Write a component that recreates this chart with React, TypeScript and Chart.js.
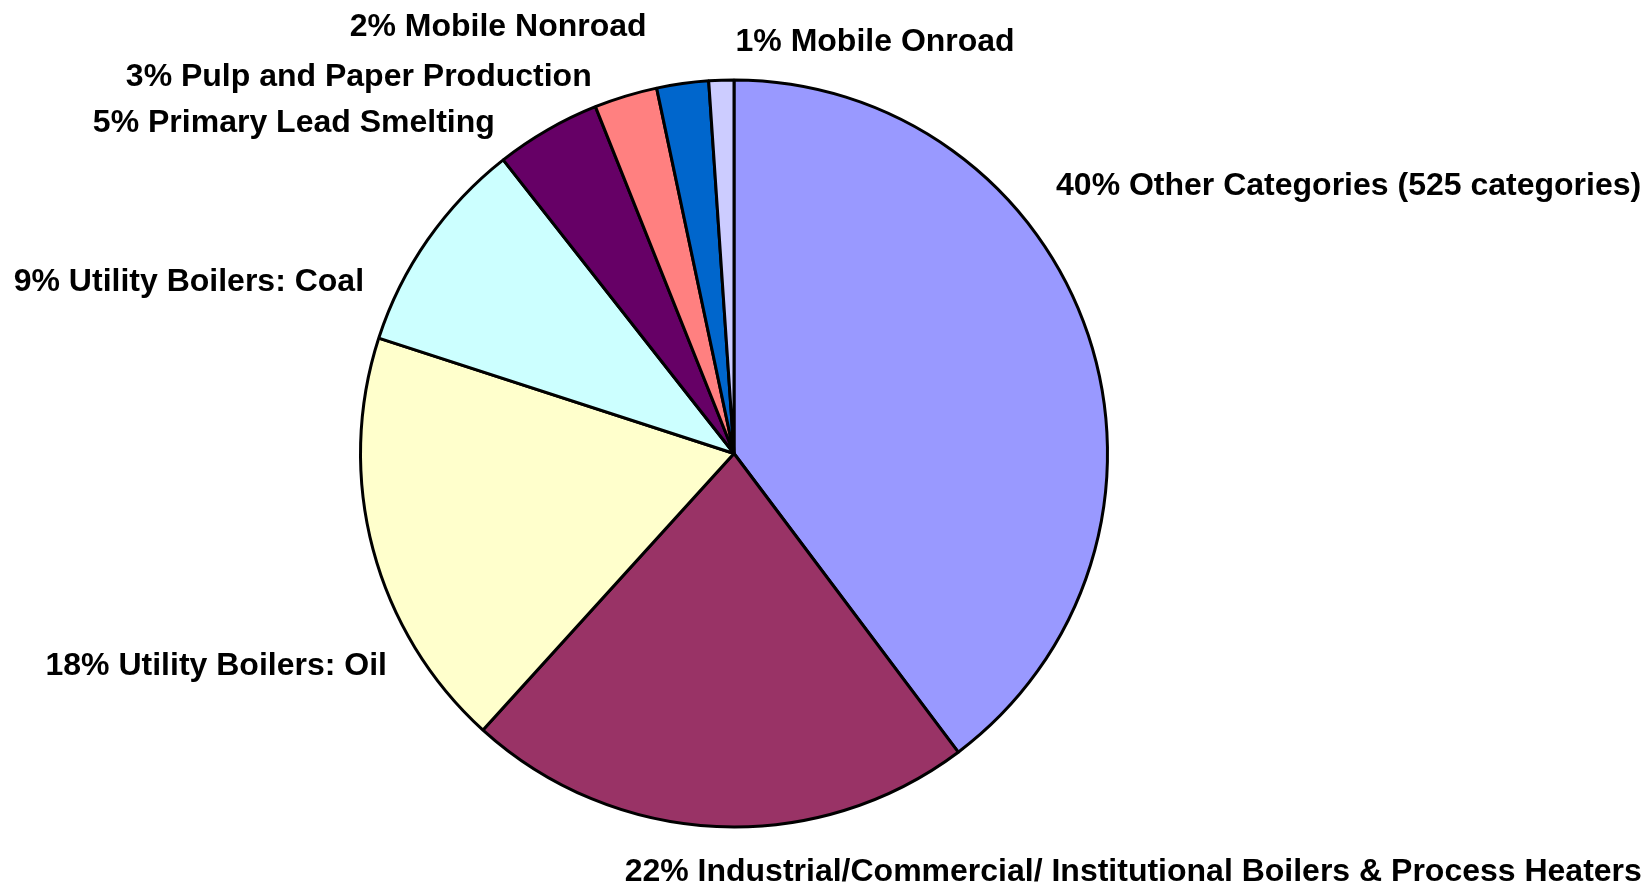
import React, { useEffect, useRef } from "react";
import { Chart, registerables } from "chart.js";

Chart.register(...registerables);

const categories = [
  "Other Categories (525 categories)",
  "Industrial/Commercial/ Institutional Boilers & Process Heaters",
  "Utility Boilers: Oil",
  "Utility Boilers: Coal",
  "Primary Lead Smelting",
  "Pulp and Paper Production",
  "Mobile Nonroad",
  "Mobile Onroad",
];

const values = [39.75, 21.98, 18.27, 9.4, 4.55, 2.73, 2.24, 1.08];

const colors = [
  "#9999FF",
  "#993366",
  "#FFFFCC",
  "#CCFFFF",
  "#660066",
  "#FF8080",
  "#0066CC",
  "#CCCCFF",
];

// label layout (relative to each slice's mid-angle point on the rim, in radius units)
const labelAlign: CanvasTextAlign[] = ["left", "left", "right", "right", "right", "right", "right", "left"];
const labelOffsets: [number, number][] = [
  [-0.0864, -0.4067],
  [-0.2463, 0.1147],
  [0.0372, 0.3059],
  [-0.1706, 0.1059],
  [-0.1409, -0.0241],
  [-0.0909, -0.0578],
  [-0.0963, -0.158],
  [0.038, -0.1088],
];

const FONT_SIZE = 32;

const labelPlugin = {
  id: "sliceLabels",
  afterDraw(chart: any) {
    const ctx: CanvasRenderingContext2D = chart.ctx;
    const meta = chart.getDatasetMeta(0);
    const total = values.reduce((a, b) => a + b, 0);
    ctx.save();
    ctx.font = `bold ${FONT_SIZE}px "Liberation Sans", Arial, sans-serif`;
    ctx.fillStyle = "#000000";
    ctx.textBaseline = "alphabetic";
    meta.data.forEach((arc: any, i: number) => {
      const p = arc.getProps(["x", "y", "startAngle", "endAngle", "outerRadius"], true);
      const mid = (p.startAngle + p.endAngle) / 2;
      const R = p.outerRadius;
      const ax = p.x + R * Math.cos(mid) + labelOffsets[i][0] * R;
      const ay = p.y + R * Math.sin(mid) + labelOffsets[i][1] * R;
      ctx.textAlign = labelAlign[i];
      const pct = Math.round((values[i] / total) * 100);
      ctx.fillText(`${pct}% ${categories[i]}`, ax, ay + 0.358 * FONT_SIZE);
    });
    ctx.restore();
  },
};

export default function App() {
  const canvasRef = useRef<HTMLCanvasElement | null>(null);

  useEffect(() => {
    if (!canvasRef.current) return;
    const chart = new Chart(canvasRef.current, {
      type: "pie",
      data: {
        labels: categories,
        datasets: [
          {
            data: values,
            backgroundColor: colors,
            borderColor: "#000000",
            borderWidth: 3,
            hoverOffset: 0,
          },
        ],
      },
      options: {
        responsive: true,
        maintainAspectRatio: false,
        animation: false,
        layout: { padding: { left: 359, right: 535, top: 78, bottom: 57 } },
        plugins: {
          legend: { display: false },
          tooltip: { enabled: false },
          title: { display: false },
        },
      },
      plugins: [labelPlugin],
    });
    return () => chart.destroy();
  }, []);

  return (
    <div
      style={{
        position: "fixed",
        left: 0,
        top: 0,
        width: "1644px",
        height: "886px",
        background: "#ffffff",
      }}
    >
      <canvas ref={canvasRef} />
    </div>
  );
}
